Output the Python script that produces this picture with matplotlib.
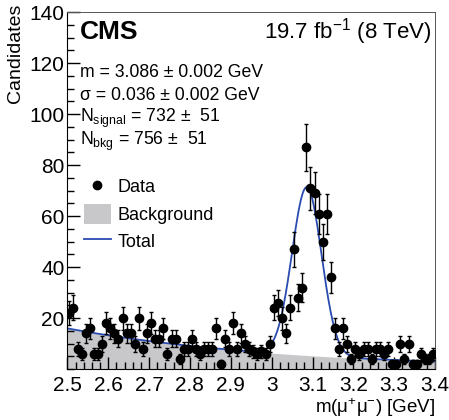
import matplotlib
matplotlib.use("Agg")
import matplotlib.pyplot as plt
import numpy as np
from matplotlib.lines import Line2D
from matplotlib.patches import Patch
from matplotlib.ticker import MultipleLocator, FormatStrFormatter

plt.rcParams['font.family'] = ['Liberation Sans', 'DejaVu Sans']
plt.rcParams['mathtext.fontset'] = 'custom'
plt.rcParams['mathtext.rm'] = 'Liberation Sans'
plt.rcParams['mathtext.it'] = 'Liberation Sans:italic'

# bins of 0.01 GeV from 2.50 to 3.40
bin_lo = 2.5
bin_w = 0.01
counts = [22, 24, 8, 6, 14, 16, 6, 6, 10, 18,
          16, 14, 12, 20, 14, 14, 10, 20, 8, 14,
          18, 12, 12, 16, 6, 12, 12, 4, 8, 8,
          12, 8, 6, 8, 8, 8, 16, 2, 12, 8,
          18, 8, 14, 10, 8, 7, 6, 7, 6, 10,
          24, 26, 20, 14, 24, 47, 28, 32, 87, 71,
          69, 61, 50, 61, 36, 16, 8, 16, 10, 4,
          8, 6, 8, 8, 4, 8, 8, 6, 8, 2,
          2, 10, 4, 10, 2, 2, 6, 4, 4, 6]

# fit result (from the text box) and curve levels
fit_mass = 3.086
fit_sigma = 0.036
peak_height = 66.0
bkg_start = 16.0   # background level at 2.5 GeV
bkg_end = 3.0      # background level at 3.4 GeV

xc = bin_lo + bin_w * (np.arange(len(counts)) + 0.5)
y = np.array(counts, dtype=float)
yerr = np.sqrt(y)

xf = np.linspace(2.5, 3.4, 500)
slope = np.log(bkg_start / bkg_end) / 0.9
bkg = bkg_start * np.exp(-slope * (xf - 2.5))
total = bkg + peak_height * np.exp(-0.5 * ((xf - fit_mass) / fit_sigma) ** 2)

fig = plt.figure(figsize=(4.49, 4.20), dpi=100)
ax = fig.add_axes([0.150, 0.121, 0.819, 0.850])

ax.fill_between(xf, 0, bkg, color='#c8c8ca', lw=0, zorder=1)
ax.plot(xf, total, color='#2a4bb0', lw=1.3, zorder=2)
ax.errorbar(xc, y, yerr=yerr, fmt='o', color='black', ms=6,
            elinewidth=1.0, capsize=1.5, capthick=1.0, zorder=3)

ax.set_xlim(2.5, 3.4)
ax.set_ylim(0, 140)
ax.xaxis.set_major_locator(MultipleLocator(0.1))
ax.xaxis.set_minor_locator(MultipleLocator(0.02))
ax.yaxis.set_minor_locator(MultipleLocator(5))
ax.xaxis.set_major_formatter(FormatStrFormatter('%g'))
ax.yaxis.set_major_formatter(FormatStrFormatter('%g'))
ax.set_yticks([20, 40, 60, 80, 100, 120, 140])
ax.tick_params(which='both', direction='in', labelsize=15, top=False, right=False)
ax.tick_params(which='major', length=9, width=1)
ax.tick_params(which='minor', length=5, width=1)
ax.tick_params(axis='x', pad=5)
ax.tick_params(axis='y', pad=2)
for side in ['top', 'right']:
    ax.spines[side].set_linewidth(0.7)
    ax.spines[side].set_color('#555555')

ax.set_ylabel('Candidates', fontsize=14, loc='top')
ax.yaxis.set_label_coords(-0.118, 1.025)
ax.set_xlabel('m(μ$^{+}$μ$^{-}$) [GeV]', fontsize=13.5, loc='right', labelpad=1)

ax.text(0.035, 0.945, 'CMS', transform=ax.transAxes, fontsize=19,
        fontweight='bold', va='center')
ax.text(0.99, 0.945, '19.7 fb$^{-1}$ (8 TeV)', transform=ax.transAxes,
        fontsize=16, ha='right', va='center')

info = ['m = 3.086 ± 0.002 GeV',
        'σ = 0.036 ± 0.002 GeV',
        'N$_{\\mathrm{signal}}$ = 732 ±  51',
        'N$_{\\mathrm{bkg}}$ = 756 ±  51']
for i, s in enumerate(info):
    ax.text(0.035, 0.83 - i * 0.064, s, transform=ax.transAxes,
            fontsize=12.7, va='center')

handles = [Line2D([], [], marker='o', ls='none', color='black', ms=6),
           Patch(facecolor='#c8c8ca', edgecolor='none'),
           Line2D([], [], color='#2a4bb0', lw=1.3)]
ax.legend(handles, ['Data', 'Background', 'Total'], loc='upper left',
          bbox_to_anchor=(0.0, 0.585), frameon=False, fontsize=13,
          handlelength=1.5, handleheight=1.3, labelspacing=0.42,
          handletextpad=0.4)

fig.savefig('out.png', dpi=100)
